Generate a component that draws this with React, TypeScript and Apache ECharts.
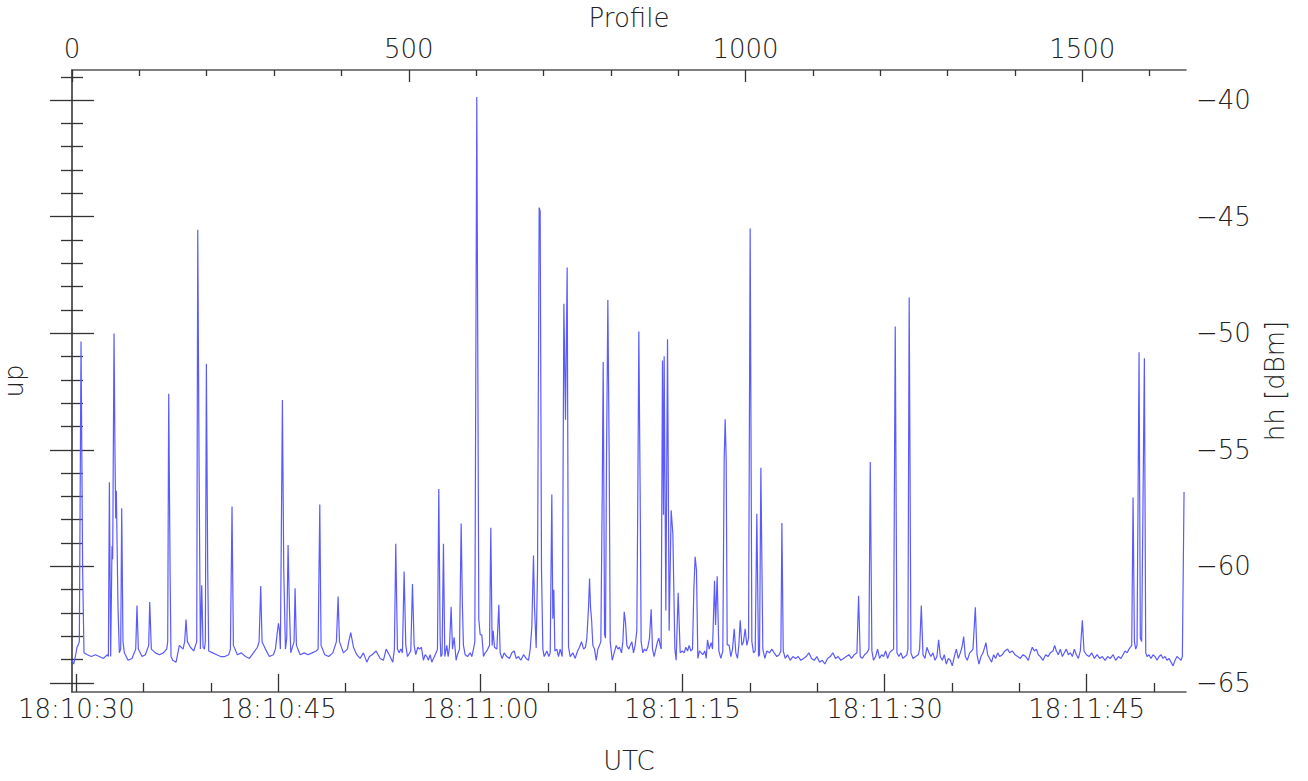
import React, { useEffect, useRef } from "react";
import * as echarts from "echarts";

// ---------------- data (profile index, hh power in dBm) ----------------
const seg1: [number, number][] = [
  [0, -64.03], [2.5, -64.19], [5, -63.87], [7.4, -63.47], [8.9, -63.39], [10.9, -63.23], [13.4, -50.36], [15.8, -60.17],
  [17.8, -63.71], [22.8, -63.79], [28.7, -63.87], [34.7, -63.79], [40.6, -63.87], [46.5, -63.95], [52.5, -63.79], [54, -63.87],
  [55.5, -56.39], [57.4, -63.87], [59.4, -59.14], [60.4, -59.7], [62.4, -50.01], [63.9, -55.41], [64.9, -57.95], [65.8, -56.76],
  [68.3, -61.76], [70.3, -63.71], [72.3, -63.55], [73.8, -57.51], [75.7, -63.23], [77.7, -63.71], [83.2, -64.03], [89.1, -63.95],
  [94.6, -63.55], [96.5, -61.68], [98.5, -63.55], [104, -63.87], [108.9, -63.79], [113.9, -63.39], [115.4, -61.53], [117.8, -63.55],
  [123.8, -63.71], [129.7, -63.79], [135.7, -63.71], [140.6, -63.55], [142.1, -63.23], [143.6, -52.6], [145.6, -60.17], [147, -63.87],
  [149.5, -64.03], [154.5, -64.11], [159.4, -63.39], [164.9, -63.55], [167.3, -63.23], [169.3, -62.28], [171.3, -63.23], [175.8, -63.47],
  [180.7, -63.63], [185.2, -63.23], [186.7, -45.56], [188.6, -55.41], [190.6, -63.55], [192.6, -60.81], [194.6, -63.47], [196.6, -63.55],
  [198, -63.23], [199.5, -51.31], [201.5, -60.17], [203, -63.63], [208.9, -63.71], [214.9, -63.79], [220.8, -63.87], [226.8, -63.87],
  [232.7, -63.79], [235.2, -63.55], [237.6, -57.43], [239.6, -63.39], [245.6, -63.79], [251.5, -63.71], [257.5, -63.87], [263.4, -63.95],
  [269.3, -63.71], [275.3, -63.47], [277.8, -63.23], [280.2, -60.84], [282.2, -63.23], [287.2, -63.55], [293.1, -63.87], [299, -63.79],
  [302, -63.55], [304.5, -62.92], [306.5, -62.44], [308, -62.76], [309.4, -63.55], [312.4, -52.87], [314.4, -60.17], [316.9, -63.55],
  [318.8, -63.08], [320.8, -59.09], [322.8, -61.76], [324.8, -63.71], [329.7, -63.23], [331.2, -60.94], [333.2, -63.39], [338.7, -63.79],
  [344.6, -63.71], [350.5, -63.79], [356.5, -63.71], [362.4, -63.63], [365.4, -63.55], [367.9, -57.35], [369.8, -63.39], [375.3, -63.79],
  [381.2, -63.87], [387.2, -63.71], [392.6, -63.23], [395.1, -61.29], [397.1, -63.23], [403, -63.71], [408.9, -63.55], [410.9, -63.23],
  [413.9, -62.84],
];

const seg2: [number, number][] = [
  [417.9, -63.47], [422.8, -63.79], [427.8, -63.95], [432.7, -63.71], [437.7, -64.11], [441.6, -63.87], [445.6, -63.79], [451.5, -63.63],
  [457.5, -63.95], [462.4, -64.03], [466.4, -63.55], [472.3, -63.87], [476.3, -64.11], [478.7, -63.55], [480.7, -59.03], [483.2, -63.55],
  [485.7, -63.71], [488.2, -63.55], [490.6, -63.71], [493.1, -60.22], [495.6, -63.39], [498.1, -63.87], [503, -63.63], [505.5, -60.76],
  [508, -63.39], [510.4, -63.79], [513.4, -63.47], [515.9, -63.55], [518.8, -63.47], [521.8, -64.03], [524.3, -63.79], [526.8, -63.87],
  [529.2, -64.03], [531.7, -63.79], [534.2, -64.11], [536.7, -63.95], [540.6, -63.71], [542.6, -63.55],
  [544.6, -56.68], [546.6, -63.08], [547.6, -63.87], [549.5, -63.79], [551.5, -59.03], [553.5, -63.87], [556.5, -63.39], [558.5, -63.87],
  [560.4, -63.47], [562.9, -61.73], [564.9, -63.55], [567.4, -63.05], [570.3, -64.03], [572.3, -63.79], [575.3, -63.55], [577.8, -58.16],
  [579.7, -61.76], [581.2, -63.39], [583.7, -63.79], [587.2, -63.87], [591.1, -63.71], [593.6, -63.87], [596.1, -63.55], [598.1, -63.23],
  [601, -39.87], [604, -62.28], [606, -62.92], [608.5, -62.95], [611, -63.87], [613.4, -63.71], [615.9, -63.63], [619.9, -63.39],
  [621.8, -58.35], [623.8, -63.39], [625.3, -62.76], [627.3, -63.47], [630.8, -63.55], [633.7, -61.65], [635.7, -63.71], [638.7, -63.95],
  [641.6, -63.71], [645.6, -63.87], [649.6, -63.95], [653, -63.71], [656.5, -63.63], [659.5, -63.95], [662.9, -63.87], [666.4, -64.03],
  [670.4, -63.79], [674.3, -63.95], [677.8, -64.03], [680.3, -63.55], [682.7, -62.6], [685.2, -59.54], [686.7, -61.76], [689.2, -63.5],
  [691.2, -60.17], [693.6, -44.61], [695.1, -44.77], [697.1, -60.17], [699.1, -63.55], [701.1, -63.87], [705, -63.63], [708, -63.87],
  [710, -63.71], [712.4, -56.92], [713.9, -62.25], [715.4, -61.0], [716.9, -63.63], [719.9, -63.55], [722.3, -63.87], [724.8, -63.55],
  [727.8, -63.87], [730.3, -48.74], [732.7, -53.71], [735.2, -47.18], [737.2, -63.47], [739.7, -63.87], [743.6, -63.71], [747.1, -63.95],
  [750.6, -63.63], [753.5, -63.47], [756.5, -63.23], [759.5, -63.55], [762.4, -63.47], [764.4, -63.08], [766.9, -61.76], [768.4, -60.52],
  [769.9, -61.76], [771.4, -62.25], [773.3, -63.39], [775.8, -63.55], [778.3, -64.03], [780.8, -63.55], [783.2, -63.39], [785.2, -63.23],
  [787.2, -57.0], [788.7, -51.23], [790.7, -62.92], [792.1, -63.08], [793.6, -55.41], [795.6, -48.58], [797.6, -55.41], [799.1, -63.23],
  [802.1, -64.03], [805, -63.71], [808, -63.39], [810.5, -63.55], [812.9, -63.47], [815.9, -63.71], [817.9, -63.23], [819.9, -61.95],
  [821.9, -62.44], [823.8, -63.39], [826.8, -63.55],
];

const seg3: [number, number][] = [
  [828.7, -63.39], [831.2, -63.23], [833.7, -63.71], [836.1, -63.39], [838.6, -62.76], [840.1, -57.0], [841.6, -49.93], [843.6, -57.0],
  [845, -63.23], [847.5, -63.71], [850, -63.55], [852.5, -63.63], [854.9, -63.47], [857.4, -63.08], [859.9, -61.84], [861.9, -63.55],
  [864.3, -63.87], [866.8, -63.55], [869.3, -63.23], [871.3, -63.08], [873.3, -63.39], [874.7, -63.55], [876.7, -51.17], [878.2, -57.79],
  [879.2, -50.99], [881.7, -61.89], [884.2, -50.26], [886.6, -62.76], [889.6, -57.6], [892.1, -58.59], [895.1, -63.55], [897, -64.03],
  [900, -61.13], [903, -63.71], [906, -63.63], [908.9, -63.71], [911.4, -63.47], [913.9, -63.63], [916.3, -63.39], [918.8, -63.63],
  [921.3, -63.55], [923.3, -60.97], [925.2, -59.59], [927.2, -60.17], [929.2, -63.95], [931.7, -63.63], [934.2, -63.71], [936.6, -63.79],
  [939.6, -63.63], [941.6, -63.95], [943.6, -63.15], [946, -63.55], [949, -63.27], [951, -63.55], [954, -60.62], [955.5, -62.52],
  [957.9, -60.43], [960.4, -63.63], [963.4, -63.95], [966.3, -63.63], [968.3, -55.41], [969.8, -53.69], [971.3, -55.41], [972.8, -63.36],
  [975.7, -63.39], [978.2, -63.87], [980.7, -63.55], [983.2, -62.68], [985.6, -63.71], [988.1, -63.95], [990.1, -63.39], [992.1, -62.31],
  [994.6, -63.39], [997, -63.23], [999.5, -62.68], [1002, -63.39], [1004.5, -63.08], [1006.9, -45.51], [1009.4, -63.23], [1011.9, -63.71],
  [1014.4, -63.63], [1016.8, -57.74], [1019.3, -63.87], [1020.8, -63.79], [1022.8, -55.77], [1025.7, -63.55], [1028.7, -63.95], [1031.7, -63.63],
  [1035.6, -63.71], [1039.1, -63.55], [1042.6, -63.71], [1046.5, -63.87], [1050, -63.79], [1052.5, -63.63], [1054, -58.14], [1056, -63.63],
  [1059, -63.95], [1062.4, -63.79], [1066.3, -64.03], [1070.3, -63.87], [1074.3, -63.95], [1078.2, -63.87], [1082.2, -64.03], [1086.2, -63.95],
  [1090.1, -63.87], [1094.1, -63.71], [1098, -63.95], [1102, -64.03], [1106, -63.87], [1110, -64.11], [1113.9, -64.03], [1117.8, -64.19],
  [1121.8, -63.95], [1125.8, -63.87], [1129.7, -63.71], [1133.7, -63.95], [1137.6, -63.87], [1141.6, -64.03], [1145.6, -63.95], [1149.5, -63.87],
  [1153.5, -63.79], [1157.4, -63.95], [1161.4, -63.79], [1165.4, -63.71], [1167.9, -61.26], [1170.3, -63.87], [1173.3, -63.95], [1176.8, -63.79],
  [1180.2, -63.71], [1183.2, -63.55], [1185.2, -55.52], [1187.6, -63.63], [1190.1, -64.03], [1193.1, -63.87], [1196.1, -63.55], [1199, -63.95],
  [1202, -63.79], [1205, -63.87], [1208, -63.63], [1210.9, -63.95], [1213.9, -63.71], [1216.4, -63.63], [1219.8, -63.55], [1222.3, -49.71],
  [1224.8, -63.71], [1227.7, -63.87], [1230.7, -63.71], [1233.7, -63.95], [1236.7, -63.87], [1239.6, -63.79], [1241.1, -63.55],
];

const seg4: [number, number][] = [
  [1243, -48.47], [1245.6, -63.71], [1248.6, -63.95], [1252.6, -63.87], [1256.5, -63.79], [1258.5, -63.55], [1261, -61.68], [1263.5, -63.79],
  [1266.4, -63.95], [1269.4, -63.47], [1272.4, -63.71], [1275.3, -63.87], [1278.3, -63.71], [1281.3, -64.03], [1284.2, -63.87], [1286.7, -63.15],
  [1289.2, -63.87], [1292.2, -64.03], [1295.1, -63.79], [1298.1, -64.19], [1301.1, -63.95], [1304.1, -64.03], [1307, -64.27], [1310, -63.87],
  [1313, -63.55], [1315.9, -63.95], [1318.9, -63.71], [1321.4, -63.47], [1323.9, -63.01], [1326.3, -63.87], [1329.3, -64.03], [1332.8, -63.71],
  [1335.7, -63.63], [1337.7, -63.55], [1341.2, -61.76], [1343.7, -63.79], [1346.6, -64.19], [1349.6, -63.87], [1352.6, -63.71], [1355.1, -63.47],
  [1357, -63.27], [1359.5, -63.79], [1362.5, -63.95], [1365.4, -64.11], [1368.4, -63.79], [1371.4, -63.95], [1374.4, -63.71], [1377.3, -63.87],
  [1381.3, -63.79], [1385.2, -63.63], [1389.2, -63.55], [1392.2, -63.71], [1396.1, -63.63], [1400.1, -63.79], [1404.1, -63.87], [1408, -63.95],
  [1412, -63.79], [1416, -63.87], [1419.9, -64.03], [1422.9, -63.71], [1425.8, -63.47], [1428.8, -63.63], [1431.8, -63.55], [1434.8, -63.79],
  [1437.7, -63.87], [1441.7, -64.03], [1445.6, -63.79], [1449.1, -63.87], [1452.6, -63.71], [1456.5, -63.63], [1459, -63.39], [1461.5, -63.63],
  [1464.5, -63.79], [1467.4, -63.55], [1470.4, -63.87], [1473.4, -63.71], [1476.3, -63.55], [1479.3, -63.79], [1482.3, -63.71], [1485.3, -63.87],
  [1488.2, -63.55], [1491.2, -63.79], [1494.2, -63.95], [1497.1, -63.63], [1500.1, -62.31], [1502.6, -63.63], [1506.1, -63.79], [1510, -63.87],
  [1514, -63.71], [1518, -63.95], [1521.9, -63.79], [1525.9, -63.95], [1529.8, -63.87], [1533.8, -64.03], [1537.7, -63.87], [1541.7, -63.95],
  [1545.7, -63.79], [1549.6, -64.03], [1553.6, -63.87], [1557.5, -63.95], [1560.5, -63.79], [1563.5, -63.63], [1566.5, -63.71], [1569.4, -63.55],
  [1571.4, -63.47], [1573.4, -63.39], [1575.4, -57.05], [1577.4, -63.23], [1579.3, -63.55], [1581.3, -63.39], [1584.3, -50.82], [1586.2, -63.08],
  [1588.2, -63.23], [1592.2, -51.07], [1594.2, -63.71], [1596.2, -63.87], [1599.1, -63.79], [1602.1, -63.95], [1605.1, -63.79], [1608, -63.87],
  [1611, -64.03], [1614, -63.87], [1617, -63.79], [1619.9, -63.95], [1622.9, -63.87], [1625.9, -64.03], [1628.8, -63.95], [1631.8, -64.11],
  [1634.8, -64.27], [1637.8, -64.03], [1640.7, -63.87], [1643.7, -63.95], [1646.7, -64.03], [1648.6, -63.87], [1651.1, -56.81],
];

// axis ranges and ticks
const profileMax = 1654;
const profileMajorTicks = [0, 500, 1000, 1500];
const profileMinorTicks = [100, 200, 300, 400, 600, 700, 800, 900, 1100, 1200, 1300, 1400, 1600];
const profileRateHz = 20;
const firstProfileTime = "18:10:29.68";
const timeMajorLabels = ["18:10:30", "18:10:45", "18:11:00", "18:11:15", "18:11:30", "18:11:45"];
const timeMinorLabels = [
  "18:10:35", "18:10:40", "18:10:50", "18:10:55", "18:11:05", "18:11:10", "18:11:20", "18:11:25",
  "18:11:35", "18:11:40", "18:11:50",
];
const dbmMin = -65.39;
const dbmMax = -38.71;
const dbmMajorTicks = [-65, -60, -55, -50, -45, -40];
const dbmMinorTicks = [
  -64, -63, -62, -61, -59, -58, -57, -56, -54, -53, -52, -51, -49, -48, -47, -46, -44, -43, -42, -41, -39,
];

const toSeconds = (s: string) => {
  const [h, m, sec] = s.split(":");
  return Number(h) * 3600 + Number(m) * 60 + Number(sec);
};
const pad = (n: number) => (n < 10 ? "0" + n : String(n));
const fmtTime = (v: number) => {
  const t = Math.round(v);
  const h = Math.floor(t / 3600);
  const m = Math.floor((t % 3600) / 60);
  const s = t % 60;
  return `${h}:${pad(m)}:${pad(s)}`;
};

const FONT = "DejaVu Sans";
const TXT = "#222";
const LINE = "#555";

export default function App() {
  const ref = useRef<HTMLDivElement>(null);
  useEffect(() => {
    if (!ref.current) return;
    const chart = echarts.init(ref.current, undefined, { renderer: "svg" });
    const data = [...seg1, ...seg2, ...seg3, ...seg4];
    const tMin = toSeconds(firstProfileTime);
    const tMax = tMin + profileMax / profileRateHz;
    const textStyle = { fontFamily: FONT, fontSize: 26, color: TXT, fontWeight: 200 as any };
    const tickStyle = { color: "#333", width: 1.3 };

    const base = {
      splitLine: { show: false },
      axisLine: { show: false, lineStyle: { color: LINE, width: 1.5 } },
      axisLabel: { show: false },
    };

    chart.setOption({
      animation: false,
      backgroundColor: "#fff",
      grid: { left: 72, right: 122, top: 70, bottom: 89, containLabel: false, outerBoundsMode: "none" },
      xAxis: [
        {
          ...base,
          type: "value",
          position: "top",
          min: 0,
          max: profileMax,
          axisLine: { show: true, lineStyle: { color: LINE, width: 1.5 } },
          axisTick: { show: true, inside: true, length: 12, customValues: profileMajorTicks, lineStyle: tickStyle },
          axisLabel: { show: true, customValues: profileMajorTicks, margin: 8, formatter: (v: number) => String(v), ...textStyle },
          name: "Profile",
          nameLocation: "middle",
          nameGap: 33,
          nameTextStyle: textStyle,
        },
        {
          ...base,
          type: "value",
          position: "top",
          min: 0,
          max: profileMax,
          axisTick: { show: true, inside: true, length: 6, customValues: profileMinorTicks, lineStyle: tickStyle },
        },
        {
          ...base,
          type: "value",
          position: "bottom",
          min: tMin,
          max: tMax,
          axisLine: { show: true, lineStyle: { color: LINE, width: 1.5 } },
          axisTick: { show: true, inside: true, length: 18, customValues: timeMajorLabels.map(toSeconds), lineStyle: tickStyle },
          axisLabel: { show: true, customValues: timeMajorLabels.map(toSeconds), margin: 4, formatter: fmtTime, ...textStyle },
          name: "UTC",
          nameLocation: "middle",
          nameGap: 56,
          nameTextStyle: textStyle,
        },
        {
          ...base,
          type: "value",
          position: "bottom",
          min: tMin,
          max: tMax,
          axisTick: { show: true, inside: true, length: 9, customValues: timeMinorLabels.map(toSeconds), lineStyle: tickStyle },
        },
      ],
      yAxis: [
        {
          ...base,
          type: "value",
          position: "right",
          min: dbmMin,
          max: dbmMax,
          axisLine: { show: true, lineStyle: { color: LINE, width: 1.5 } },
          axisTick: { show: true, inside: true, length: 22, customValues: dbmMajorTicks, lineStyle: tickStyle },
          axisLabel: {
            show: true,
            customValues: dbmMajorTicks,
            margin: 10,
            formatter: (v: number) => String(v).replace("-", "\u2212"),
            ...textStyle,
          },
          name: "hh [dBm]",
          nameLocation: "middle",
          nameGap: 70,
          nameTextStyle: textStyle,
        },
        {
          ...base,
          type: "value",
          position: "right",
          min: dbmMin,
          max: dbmMax,
          axisTick: { show: true, inside: true, length: 11, customValues: dbmMinorTicks, lineStyle: tickStyle },
        },
        {
          ...base,
          type: "value",
          position: "left",
          min: dbmMin,
          max: dbmMax,
          axisLine: { show: true, lineStyle: { color: LINE, width: 1.5 } },
          axisTick: { show: true, inside: true, length: 22, customValues: dbmMajorTicks, lineStyle: tickStyle },
          name: "up",
          nameLocation: "middle",
          nameGap: 45,
          nameTextStyle: textStyle,
        },
        {
          ...base,
          type: "value",
          position: "left",
          min: dbmMin,
          max: dbmMax,
          axisTick: { show: true, inside: true, length: 11, customValues: dbmMinorTicks, lineStyle: tickStyle },
        },
      ],
      series: [
        {
          type: "line",
          xAxisIndex: 0,
          yAxisIndex: 0,
          data,
          showSymbol: false,
          symbol: "none",
          clip: true,
          lineStyle: { color: "#5a5aff", width: 1.2 },
        },
      ],
    });
    return () => chart.dispose();
  }, []);
  return (
    <div
      ref={ref}
      style={{ position: "fixed", left: 0, top: 0, width: 1308, height: 781, background: "#fff" }}
    />
  );
}
